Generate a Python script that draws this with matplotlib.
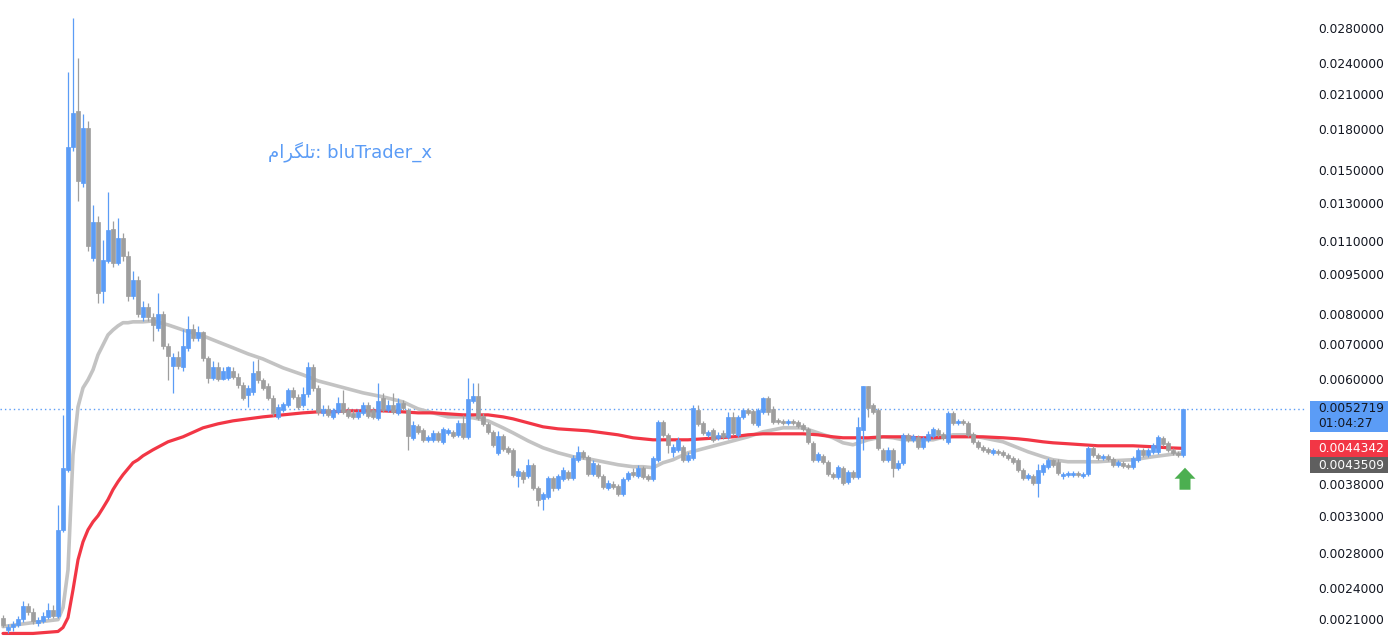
import matplotlib
matplotlib.use("Agg")
import matplotlib.pyplot as plt
from matplotlib.patches import Rectangle, Polygon
from matplotlib.ticker import NullLocator

# candle data (one candle per slot)
opens = [0.002111, 0.002004, 0.002022, 0.002048, 0.002102, 0.002224, 0.002167, 0.002066, 0.002084, 0.002120,
         0.002186, 0.002130, 0.003103, 0.004037, 0.01663, 0.01946, 0.01420, 0.01806, 0.01022, 0.01197,
         0.00885, 0.01009, 0.01161, 0.01000, 0.01116, 0.01031, 0.00866, 0.00928, 0.00790, 0.00825,
         0.00790, 0.00753, 0.00800, 0.00695, 0.00637, 0.00663, 0.00632, 0.00689, 0.00749, 0.00720,
         0.00737, 0.00660, 0.00604, 0.00632, 0.00601, 0.00604, 0.00623, 0.00607, 0.005857, 0.005606,
         0.005680, 0.00623, 0.005986, 0.005831, 0.005532, 0.005090, 0.005249, 0.005365, 0.005730, 0.005557,
         0.005365, 0.005630, 0.00634, 0.005780, 0.005180, 0.005272, 0.005090, 0.005203, 0.005412, 0.005249,
         0.005180, 0.005090, 0.005180, 0.005365, 0.005249, 0.005068, 0.005532, 0.005249, 0.005365, 0.005180,
         0.005412, 0.005249, 0.004644, 0.004894, 0.004809, 0.004603, 0.004603, 0.004746, 0.004563, 0.004746,
         0.004767, 0.004705, 0.004959, 0.004664, 0.005460, 0.005581, 0.005113, 0.004937, 0.004767, 0.004349,
         0.004685, 0.004445, 0.004406, 0.003933, 0.004002, 0.003933, 0.004127, 0.003732, 0.003558, 0.003589,
         0.003899, 0.003732, 0.003882, 0.004002, 0.003899, 0.004218, 0.004368, 0.004274, 0.003968, 0.004127,
         0.003933, 0.003732, 0.003798, 0.003765, 0.003636, 0.003882, 0.004002, 0.003933, 0.004073, 0.003933,
         0.003882, 0.004218, 0.004980, 0.004705, 0.004368, 0.004406, 0.004465, 0.004218, 0.004255, 0.005249,
         0.004959, 0.004705, 0.004809, 0.004644, 0.004746, 0.004664, 0.005090, 0.004705, 0.005090, 0.005249,
         0.005226, 0.004915, 0.005203, 0.005532, 0.005272, 0.005024, 0.005002, 0.004959, 0.005002, 0.004980,
         0.004915, 0.004830, 0.004543, 0.004218, 0.004292, 0.004181, 0.003968, 0.003916, 0.004073, 0.003831,
         0.004002, 0.003916, 0.004809, 0.005831, 0.005365, 0.005249, 0.004406, 0.004218, 0.004406, 0.004073,
         0.004163, 0.004705, 0.004603, 0.004664, 0.004465, 0.004603, 0.004685, 0.004809, 0.004726, 0.004563,
         0.005180, 0.004959, 0.005002, 0.004959, 0.004726, 0.004563, 0.004465, 0.004426, 0.004349, 0.004387,
         0.004368, 0.004311, 0.004255, 0.004218, 0.004037, 0.003899, 0.003933, 0.003815, 0.004002, 0.004091,
         0.004218, 0.004181, 0.003933, 0.003950, 0.003950, 0.003985, 0.003933, 0.003968, 0.004445, 0.004311,
         0.004255, 0.004292, 0.004236, 0.004127, 0.004163, 0.004127, 0.004091, 0.004218, 0.004406, 0.004311,
         0.004368, 0.004368, 0.004644, 0.004543, 0.004406, 0.004349, 0.004311]

highs = [0.002139, 0.002057, 0.002084, 0.002130, 0.002273, 0.002253, 0.002205, 0.002120, 0.002167, 0.002253,
         0.002234, 0.003466, 0.005135, 0.02309, 0.02925, 0.02455, 0.01921, 0.01863, 0.01289, 0.01229,
         0.01106, 0.01365, 0.01202, 0.01218, 0.01141, 0.01054, 0.00966, 0.00945, 0.00847, 0.00840,
         0.00804, 0.00877, 0.00811, 0.00704, 0.00674, 0.00680, 0.00749, 0.00793, 0.00766, 0.00759,
         0.00743, 0.00666, 0.00651, 0.00646, 0.00634, 0.00637, 0.00632, 0.00618, 0.005934, 0.005857,
         0.00651, 0.00657, 0.00604, 0.005908, 0.005606, 0.005389, 0.005436, 0.005780, 0.005805, 0.005630,
         0.005805, 0.00646, 0.00643, 0.005857, 0.005365, 0.005365, 0.005295, 0.005557, 0.005730, 0.005318,
         0.005249, 0.005272, 0.005436, 0.005436, 0.005318, 0.005908, 0.005655, 0.005484, 0.005655, 0.005532,
         0.005484, 0.005295, 0.005002, 0.004937, 0.004851, 0.004705, 0.004809, 0.004788, 0.004873, 0.004851,
         0.004809, 0.005024, 0.005135, 0.00604, 0.005908, 0.005908, 0.005180, 0.004980, 0.004809, 0.004788,
         0.004726, 0.004484, 0.004445, 0.004073, 0.004037, 0.004236, 0.004163, 0.003765, 0.003668, 0.003933,
         0.003933, 0.003968, 0.004091, 0.004037, 0.004311, 0.004484, 0.004406, 0.004311, 0.004218, 0.004163,
         0.003968, 0.003865, 0.003848, 0.003798, 0.003916, 0.004020, 0.004073, 0.004127, 0.004109, 0.003968,
         0.004292, 0.005024, 0.005024, 0.004746, 0.004524, 0.004664, 0.004504, 0.004368, 0.005365, 0.005365,
         0.005002, 0.004809, 0.004851, 0.004767, 0.004809, 0.005203, 0.005203, 0.005135, 0.005295, 0.005295,
         0.005272, 0.005295, 0.005557, 0.005581, 0.005342, 0.005068, 0.005046, 0.005046, 0.005046, 0.005024,
         0.004959, 0.004873, 0.004583, 0.004368, 0.004330, 0.004218, 0.004002, 0.004127, 0.004109, 0.004037,
         0.004037, 0.005090, 0.005831, 0.005831, 0.005412, 0.005295, 0.004445, 0.004465, 0.004445, 0.004218,
         0.004746, 0.004746, 0.004726, 0.004705, 0.004685, 0.004788, 0.004873, 0.004851, 0.004767, 0.005226,
         0.005226, 0.005046, 0.005046, 0.005002, 0.004767, 0.004603, 0.004504, 0.004465, 0.004445, 0.004426,
         0.004406, 0.004349, 0.004292, 0.004255, 0.004073, 0.003985, 0.003968, 0.004145, 0.004163, 0.004255,
         0.004236, 0.004236, 0.004002, 0.004020, 0.004020, 0.004020, 0.004002, 0.004484, 0.004484, 0.004349,
         0.004330, 0.004330, 0.004274, 0.004218, 0.004200, 0.004163, 0.004292, 0.004445, 0.004445, 0.004445,
         0.004543, 0.004705, 0.004685, 0.004583, 0.004445, 0.004387, 0.0052719]

lows = [0.002022, 0.001978, 0.001995, 0.002022, 0.002075, 0.002139, 0.002057, 0.002039, 0.002066, 0.002102,
        0.002111, 0.002111, 0.003076, 0.004002, 0.01634, 0.01312, 0.01395, 0.01054, 0.01009, 0.00840,
        0.00840, 0.01000, 0.00983, 0.00991, 0.01009, 0.00847, 0.00855, 0.00790, 0.00776, 0.00776,
        0.00710, 0.00743, 0.00686, 0.00599, 0.005655, 0.00629, 0.00623, 0.00680, 0.00710, 0.00710,
        0.00651, 0.005908, 0.005986, 0.005960, 0.005986, 0.00598, 0.00601, 0.005780, 0.005484, 0.005318,
        0.005606, 0.005908, 0.005730, 0.005484, 0.005113, 0.005046, 0.005203, 0.005318, 0.005508, 0.005272,
        0.005318, 0.005557, 0.005705, 0.005135, 0.005113, 0.005090, 0.005046, 0.005158, 0.005158, 0.005068,
        0.005046, 0.005046, 0.005135, 0.005068, 0.005046, 0.005024, 0.005203, 0.005203, 0.005158, 0.005135,
        0.005249, 0.004406, 0.004603, 0.004726, 0.004563, 0.004563, 0.004563, 0.004563, 0.004524, 0.004705,
        0.004644, 0.004664, 0.004623, 0.004623, 0.005412, 0.005024, 0.004894, 0.004726, 0.004465, 0.004311,
        0.004387, 0.004330, 0.003916, 0.003749, 0.003815, 0.003899, 0.003700, 0.003450, 0.003390, 0.003558,
        0.003684, 0.003700, 0.003848, 0.003865, 0.003865, 0.004181, 0.004236, 0.003933, 0.003933, 0.003899,
        0.003716, 0.003700, 0.003716, 0.003604, 0.003604, 0.003848, 0.003916, 0.003899, 0.003882, 0.003848,
        0.003848, 0.004181, 0.004664, 0.004349, 0.004274, 0.004368, 0.004181, 0.004181, 0.004218, 0.004894,
        0.004705, 0.004664, 0.004563, 0.004603, 0.004623, 0.004623, 0.004705, 0.004664, 0.005046, 0.005135,
        0.004915, 0.004873, 0.005158, 0.005135, 0.004937, 0.004937, 0.004915, 0.004915, 0.004915, 0.004851,
        0.004788, 0.004524, 0.004181, 0.004181, 0.004145, 0.003933, 0.003882, 0.003882, 0.003782, 0.003798,
        0.003882, 0.003882, 0.004406, 0.005090, 0.005158, 0.004406, 0.004181, 0.004181, 0.003916, 0.004037,
        0.004127, 0.004563, 0.004563, 0.004426, 0.004426, 0.004563, 0.004644, 0.004664, 0.004603, 0.004524,
        0.004915, 0.004915, 0.004915, 0.004664, 0.004524, 0.004426, 0.004368, 0.004330, 0.004311, 0.004311,
        0.004274, 0.004218, 0.004145, 0.004002, 0.003865, 0.003865, 0.003782, 0.003589, 0.003950, 0.004055,
        0.004091, 0.003950, 0.003882, 0.003916, 0.003916, 0.003916, 0.003899, 0.003933, 0.004274, 0.004218,
        0.004218, 0.004200, 0.004091, 0.004091, 0.004073, 0.004055, 0.004055, 0.004181, 0.004274, 0.004274,
        0.004330, 0.004330, 0.004484, 0.004368, 0.004311, 0.004274, 0.004274]

closes = [0.002048, 0.002030, 0.002057, 0.002102, 0.002224, 0.002167, 0.002084, 0.002093, 0.002130, 0.002186,
          0.002130, 0.003103, 0.004073, 0.01663, 0.01929, 0.01432, 0.01806, 0.01077, 0.01197, 0.00877,
          0.01013, 0.01156, 0.01000, 0.01116, 0.01031, 0.00866, 0.00928, 0.00800, 0.00825, 0.00790,
          0.00763, 0.00800, 0.00695, 0.00666, 0.00663, 0.00637, 0.00695, 0.00749, 0.00720, 0.00737,
          0.00660, 0.00604, 0.00632, 0.00601, 0.00623, 0.00632, 0.00607, 0.005857, 0.005532, 0.005780,
          0.00618, 0.005986, 0.005780, 0.005532, 0.005180, 0.005318, 0.005389, 0.005730, 0.005557, 0.005318,
          0.005630, 0.00634, 0.005780, 0.005203, 0.005272, 0.005135, 0.005249, 0.005412, 0.005203, 0.005113,
          0.005090, 0.005203, 0.005365, 0.005113, 0.005090, 0.005460, 0.005249, 0.005365, 0.005203, 0.005412,
          0.005295, 0.004685, 0.004915, 0.004767, 0.004603, 0.004664, 0.004746, 0.004603, 0.004830, 0.004809,
          0.004685, 0.004959, 0.004664, 0.005508, 0.005581, 0.005068, 0.004937, 0.004767, 0.004504, 0.004685,
          0.004426, 0.004368, 0.003950, 0.004020, 0.003882, 0.004127, 0.003732, 0.003542, 0.003636, 0.003899,
          0.003732, 0.003933, 0.004037, 0.003899, 0.004255, 0.004368, 0.004274, 0.003968, 0.004163, 0.003933,
          0.003749, 0.003815, 0.003749, 0.003636, 0.003882, 0.003985, 0.003950, 0.004073, 0.003916, 0.003882,
          0.004255, 0.004980, 0.004705, 0.004504, 0.004465, 0.004603, 0.004218, 0.004311, 0.005295, 0.004937,
          0.004746, 0.004767, 0.004603, 0.004705, 0.004664, 0.005090, 0.004746, 0.005090, 0.005249, 0.005180,
          0.004959, 0.005249, 0.005532, 0.005203, 0.004980, 0.004980, 0.004959, 0.005002, 0.004959, 0.004894,
          0.004830, 0.004563, 0.004218, 0.004330, 0.004181, 0.003968, 0.003916, 0.004091, 0.003815, 0.004002,
          0.003916, 0.004873, 0.005831, 0.005295, 0.005203, 0.004445, 0.004218, 0.004406, 0.004073, 0.004163,
          0.004705, 0.004603, 0.004685, 0.004465, 0.004644, 0.004726, 0.004830, 0.004705, 0.004644, 0.005180,
          0.004959, 0.005002, 0.004959, 0.004705, 0.004563, 0.004465, 0.004406, 0.004368, 0.004406, 0.004349,
          0.004311, 0.004255, 0.004181, 0.004037, 0.003899, 0.003950, 0.003815, 0.004037, 0.004127, 0.004218,
          0.004127, 0.003985, 0.003968, 0.003985, 0.003985, 0.003950, 0.003968, 0.004445, 0.004311, 0.004255,
          0.004292, 0.004236, 0.004127, 0.004181, 0.004109, 0.004091, 0.004255, 0.004406, 0.004311, 0.004406,
          0.004504, 0.004664, 0.004524, 0.004406, 0.004349, 0.004311, 0.0052719]

# moving averages, read at these candle slots
ma_idx = [0, 6, 11, 12, 13, 14, 15, 16, 17, 18,
          19, 20, 21, 22, 23, 24, 25, 26, 27, 28,
          30, 33, 36, 40, 43, 46, 49, 52, 56, 60,
          63, 66, 69, 72, 76, 80, 83, 86, 89, 92,
          94, 97, 100, 102, 105, 108, 111, 114, 117, 120,
          123, 126, 128, 130, 132, 134, 137, 140, 143, 146,
          149, 152, 156, 160, 163, 166, 168, 170, 173, 176,
          178, 180, 183, 186, 190, 193, 196, 200, 203, 205,
          208, 210, 213, 216, 219, 222, 226, 230, 233, 236]
ma_slow = [0.001970, 0.001970, 0.001987, 0.002022, 0.002111, 0.002385, 0.002720, 0.002943, 0.003103, 0.003213,
           0.003299, 0.003416, 0.003542, 0.003700, 0.003831, 0.003950, 0.004055, 0.004163, 0.004218, 0.004292,
           0.004406, 0.004563, 0.004664, 0.004851, 0.004937, 0.005002, 0.005046, 0.005090, 0.005135, 0.005180,
           0.005203, 0.005203, 0.005226, 0.005226, 0.005226, 0.005203, 0.005180, 0.005180, 0.005158, 0.005135,
           0.005135, 0.005135, 0.005090, 0.005046, 0.004959, 0.004873, 0.004830, 0.004809, 0.004788, 0.004746,
           0.004705, 0.004644, 0.004623, 0.004603, 0.004603, 0.004603, 0.004603, 0.004623, 0.004644, 0.004664,
           0.004705, 0.004726, 0.004726, 0.004726, 0.004705, 0.004664, 0.004644, 0.004644, 0.004644, 0.004664,
           0.004664, 0.004664, 0.004644, 0.004644, 0.004664, 0.004664, 0.004664, 0.004644, 0.004623, 0.004603,
           0.004563, 0.004543, 0.004524, 0.004504, 0.004484, 0.004484, 0.004484, 0.004465, 0.004445, 0.0044342]
ma_fast = [0.002030, 0.002066, 0.002093, 0.002205, 0.002603, 0.004311, 0.005318, 0.005780, 0.005986, 0.006255,
           0.00668, 0.006978, 0.00729, 0.00745, 0.007585, 0.00769, 0.00769, 0.00772, 0.00772, 0.00772,
           0.00775, 0.007618, 0.00745, 0.00726, 0.007071, 0.00689, 0.006709, 0.00656, 0.00631, 0.00612,
           0.005960, 0.005857, 0.005755, 0.005655, 0.005557, 0.005436, 0.005272, 0.005180, 0.005090, 0.005090,
           0.005068, 0.005002, 0.004851, 0.004746, 0.004583, 0.004445, 0.004349, 0.004274, 0.004236, 0.004181,
           0.004127, 0.004091, 0.004091, 0.004073, 0.004163, 0.004218, 0.004349, 0.004426, 0.004504, 0.004583,
           0.004664, 0.004767, 0.004851, 0.004851, 0.004746, 0.004644, 0.004543, 0.004504, 0.004603, 0.004664,
           0.004644, 0.004603, 0.004603, 0.004603, 0.004705, 0.004705, 0.004644, 0.004563, 0.004445, 0.004368,
           0.004274, 0.004218, 0.004181, 0.004181, 0.004181, 0.004200, 0.004218, 0.004274, 0.004311, 0.0043509]

price_ticks = [0.028, 0.024, 0.021, 0.018, 0.015, 0.013, 0.011, 0.0095, 0.008, 0.007, 0.006,
               0.0038, 0.0033, 0.0028, 0.0024, 0.0021]
last_price = 0.0052719
countdown = "01:04:27"
watermark = "\uFEE1\uFE8D\uFEAE\uFB95\uFEE0\uFE97: bluTrader_x"  # تلگرام: bluTrader_x, shaped by hand

UP = "#5b9cf6"
DOWN = "#9e9e9e"
RED = "#f23645"
GRAY_MA = "#c3c3c3"
TXT = "#131722"

W, H = 1396, 636
fig = plt.figure(figsize=(W / 100, H / 100), dpi=100)
fig.patch.set_facecolor("white")
ax = fig.add_axes([0, 0, 1305 / W, 1])
ax.set_yscale("log")
ax.set_xlim(-0.6, 260.4)
ax.set_ylim(0.001948, 0.03164)

x = list(range(len(closes)))
cols = [UP if c >= o else DOWN for o, c in zip(opens, closes)]
bottoms = [min(o, c) for o, c in zip(opens, closes)]
heights = [abs(c - o) for o, c in zip(opens, closes)]

# moving averages under the candles
ax.plot(ma_idx, ma_fast, color=GRAY_MA, lw=2.6, solid_joinstyle="round", solid_capstyle="round", zorder=2)
ax.plot(ma_idx, ma_slow, color=RED, lw=2.3, solid_joinstyle="round", solid_capstyle="round", zorder=3)

ax.vlines(x, lows, highs, colors=cols, lw=0.9, zorder=4)
ax.bar(x, heights, bottom=bottoms, width=0.65, color=cols, edgecolor=cols, linewidth=0.5, zorder=5)

ax.axhline(last_price, color=UP, lw=1.0, linestyle=(0, (1, 2.2)), zorder=1)

# price scale
ax.yaxis.tick_right()
ax.set_yticks(price_ticks)
ax.set_yticklabels([f"{t:.7f}" for t in price_ticks])
ax.yaxis.set_minor_locator(NullLocator())
ax.tick_params(axis="y", length=0, pad=9.4, labelsize=8.8, labelcolor=TXT)
ax.set_xticks([])
for s in ax.spines.values():
    s.set_visible(False)


def img_y(val):
    return H - ax.transData.transform((0, val))[1]


def box(top, height, color):
    fig.patches.append(Rectangle((1310 / W, 1 - (top + height) / H), 78 / W, height / H,
                                 transform=fig.transFigure, facecolor=color, edgecolor="none"))


def label(ypx, s, color):
    fig.text(1318 / W, 1 - ypx / H, s, color=color, fontsize=8.8, ha="left", va="center")


yb = img_y(last_price)
box(yb - 8, 31, UP)
label(yb, f"{last_price:.7f}", TXT)
label(yb + 15, countdown, TXT)

yr = img_y(ma_slow[-1])
box(yr - 8, 17, RED)
label(yr, f"{ma_slow[-1]:.7f}", "white")
box(yr + 9, 16, "#5f5f5f")
label(yr + 17, f"{ma_fast[-1]:.7f}", "white")

# green arrow under the last candle
cx = ax.transData.transform((x[-1], 0))[0] + 2
ty = img_y(lows[-1]) + 11
pts = [(cx, ty), (cx + 10.5, ty + 11), (cx + 5.5, ty + 11), (cx + 5.5, ty + 22),
       (cx - 5.5, ty + 22), (cx - 5.5, ty + 11), (cx - 10.5, ty + 11)]
fig.patches.append(Polygon([(px / W, 1 - py / H) for px, py in pts], closed=True,
                           transform=fig.transFigure, facecolor="#4caf50", edgecolor="none"))

fig.text(268 / W, 1 - 152 / H, watermark, color=UP, fontsize=13, ha="left", va="center",
         family=["DejaVu Sans"])

fig.savefig("out.png", dpi=100, facecolor="white")
